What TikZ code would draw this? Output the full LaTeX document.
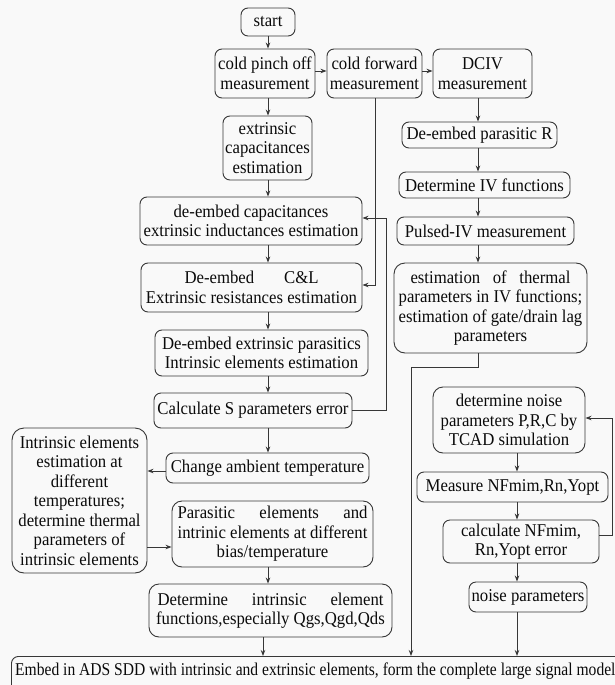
\documentclass[tikz,border=0pt]{standalone}
\usepackage{fontspec}
\setmainfont{Liberation Serif}[FakeStretch=0.93]
\usetikzlibrary{arrows.meta,calc}
\definecolor{bgcol}{RGB}{249,249,249}
\definecolor{lncol}{RGB}{55,55,55}
\definecolor{txcol}{RGB}{10,10,10}
\tikzset{
 box/.style={draw=lncol, line width=0.9pt, rounded corners=7pt, align=center, inner sep=1pt, text=txcol, font=\fontsize{18}{19.5}\selectfont},
 arr/.style={draw=lncol, line width=0.9pt, -{Stealth[length=6pt,width=4.5pt]}},
}
\begin{document}
\begin{tikzpicture}[x=1pt,y=1pt]
\useasboundingbox (0,0) rectangle (615,-685);
\fill[bgcol] (0,0) rectangle (615,-685);
\begin{scope}
\clip (0,0) rectangle (615,-685);
\node[box, minimum width=54, minimum height=28] (start) at (268,-22) {start};
\node[box, minimum width=100, minimum height=49] (pinch) at (265,-73.5) {cold pinch off\\measurement};
\node[box, minimum width=95, minimum height=49] (fwd) at (374.5,-73.5) {cold forward\\measurement};
\node[box, minimum width=99, minimum height=49] (dciv) at (482.5,-73.5) {DCIV\\measurement};
\node[box, minimum width=89, minimum height=64] (extcap) at (267.5,-148) {extrinsic\\capacitances\\estimation};
\node[box, minimum width=155, minimum height=26] (deR) at (479.5,-135) {De-embed parasitic R};
\node[box, minimum width=171, minimum height=26] (detIV) at (484.5,-185) {Determine IV functions};
\node[box, minimum width=222, minimum height=48] (decap) at (251,-221) {de-embed capacitances\\extrinsic inductances estimation};
\node[box, minimum width=177, minimum height=28] (pulsed) at (485.5,-231) {Pulsed-IV measurement};
\node[box, minimum width=221, minimum height=49] (decl) at (251.5,-287.5) {\makebox[134pt][s]{De-embed C\&L}\\Extrinsic resistances estimation};
\node[box, minimum width=193, minimum height=90, rounded corners=11pt] (therm) at (490.5,-308) {\makebox[160pt][s]{estimation of thermal}\\parameters in IV functions;\\estimation of gate/drain lag\\parameters};
\node[box, minimum width=213, minimum height=46] (deext) at (261.5,-353) {De-embed extrinsic parasitics\\Intrinsic elements estimation};
\node[box, minimum width=198, minimum height=35] (serr) at (253,-410.5) {Calculate S parameters error};
\node[box, minimum width=152, minimum height=66, rounded corners=10pt] (noiseP) at (509,-420) {determine noise\\parameters P,R,C by\\TCAD simulation};
\node[box, minimum width=203, minimum height=30] (change) at (267.5,-468) {Change ambient temperature};
\node[box, minimum width=135, minimum height=145, rounded corners=12pt] (left) at (79.5,-500.5) {Intrinsic elements\\estimation at\\different\\temperatures;\\determine thermal\\parameters of\\intrinsic elements};
\node[box, minimum width=191, minimum height=30] (meas) at (512.5,-487) {Measure NFmim,Rn,Yopt};
\node[box, minimum width=201, minimum height=66, rounded corners=10pt] (paras) at (272.5,-534) {\makebox[190pt][s]{Parasitic elements and}\\intrinic elements at different\\bias/temperature};
\node[box, minimum width=156, minimum height=43] (calc) at (521,-541.5) {calculate NFmim,\\Rn,Yopt error};
\node[box, minimum width=118, minimum height=30] (npar) at (528,-597) {noise parameters};
\node[box, minimum width=243, minimum height=53, rounded corners=10pt] (detint) at (270.5,-610.5) {\makebox[226pt][s]{Determine intrinsic element}\\functions,especially Qgs,Qgd,Qds};
\node[box, minimum width=620, minimum height=50, anchor=north west] (embed) at (11,-656) {};
\node[anchor=west, inner sep=0pt, text=txcol, font=\fontsize{18}{19.5}\selectfont] (embedtxt) at (15,-671) {\scalebox{0.93}[1]{Embed in ADS SDD with intrinsic and extrinsic elements, form the complete large signal model}};
\coordinate (cL) at (268,0);
\coordinate (cE) at (263,0);
\coordinate (cR) at (478,0);
\coordinate (cN) at (517,0);
\coordinate (r1) at (0,-71);
\coordinate (hA) at (0,-471);
\coordinate (hB) at (0,-547);
\coordinate (fbA) at (386,-218);
\coordinate (fbB) at (375,-285);
\coordinate (tA) at (478,-367);
\coordinate (tB) at (411,-367);
\coordinate (nA) at (612,-535);
\coordinate (nB) at (612,-418);
\draw[arr] (start.south -| cL) -- (pinch.north -| cL);
\draw[arr] (pinch.south -| cL) -- (extcap.north -| cL);
\draw[arr] (extcap.south -| cL) -- (decap.north -| cL);
\draw[arr] (decap.south -| cL) -- (decl.north -| cL);
\draw[arr] (decl.south -| cL) -- (deext.north -| cL);
\draw[arr] (deext.south -| cL) -- (serr.north -| cL);
\draw[arr] (serr.south -| cL) -- (change.north -| cL);
\draw[arr] (paras.south -| cL) -- (detint.north -| cL);
\draw[arr] (detint.south -| cE) -- (embed.north -| cE);
\draw[arr] (pinch.east |- r1) -- (fwd.west |- r1);
\draw[arr] (fwd.east |- r1) -- (dciv.west |- r1);
\draw[arr] (dciv.south -| cR) -- (deR.north -| cR);
\draw[arr] (deR.south -| cR) -- (detIV.north -| cR);
\draw[arr] (detIV.south -| cR) -- (pulsed.north -| cR);
\draw[arr] (pulsed.south -| cR) -- (therm.north -| cR);
\draw[arr] (serr.east) -| (fbA) -- (decap.east |- fbA);
\draw[arr] (fwd.south -| fbB) -- (fbB) -- (decl.east |- fbB);
\draw[arr] (therm.south -| tA) -- (tA) -- (tB) -- (embed.north -| tB);
\draw[arr] (noiseP.south -| cN) -- (meas.north -| cN);
\draw[arr] (meas.south -| cN) -- (calc.north -| cN);
\draw[arr] (calc.south -| cN) -- (npar.north -| cN);
\draw[arr] (npar.south -| cN) -- (embed.north -| cN);
\draw[arr] (calc.east |- nA) -- (nA) -- (nB) -- (noiseP.east |- nB);
\draw[arr] (change.west |- hA) -- (left.east |- hA);
\draw[arr] (left.east |- hB) -- (paras.west |- hB);
\end{scope}
\end{tikzpicture}
\end{document}
